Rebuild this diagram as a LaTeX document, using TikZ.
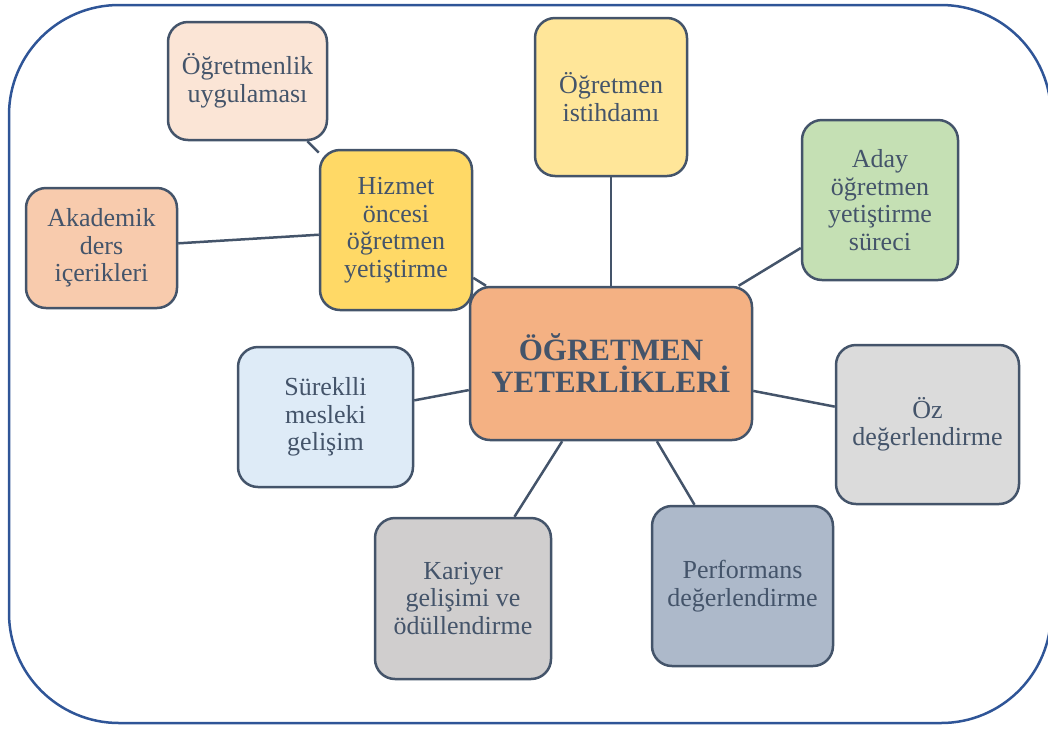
\documentclass[tikz,border=0pt]{standalone}
\usepackage{fontspec}
\setmainfont{Liberation Serif}
\definecolor{framec}{HTML}{2F5597}
\definecolor{edgec}{HTML}{44546A}
\definecolor{txtc}{HTML}{44546A}
\definecolor{uygc}{HTML}{FBE5D6}
\definecolor{istc}{HTML}{FFE699}
\definecolor{adayc}{HTML}{C5E0B4}
\definecolor{hizc}{HTML}{FFD966}
\definecolor{akac}{HTML}{F8CBAD}
\definecolor{merkc}{HTML}{F4B183}
\definecolor{surc}{HTML}{DEEBF7}
\definecolor{ozc}{HTML}{DBDBDB}
\definecolor{karc}{HTML}{D0CECE}
\definecolor{perfc}{HTML}{ADB9CA}
\tikzset{
  box/.style={draw=edgec, line width=2.5pt, rounded corners=20pt, align=center,
    text=txtc, inner sep=0pt, font=\fontsize{26}{27.5}\selectfont},
  link/.style={draw=edgec, line width=2.5pt},
}
\begin{document}
\begin{tikzpicture}[x=1pt,y=-1pt]
      \useasboundingbox (0,0) rectangle (1048,729);
      \draw[framec, line width=2.5pt, rounded corners=110pt] (9,5) rectangle (1051,723);
      \node[box, fill=uygc, minimum width=159pt, minimum height=118pt] (uyg) at (247.5,81) {Öğretmenlik\\uygulaması};
      \node[box, fill=istc, minimum width=152pt, minimum height=158pt] (ist) at (611,97) {Öğretmen\\istihdamı};
      \node[box, fill=adayc, minimum width=156pt, minimum height=160pt] (aday) at (880,200) {Aday\\öğretmen\\yetiştirme\\süreci};
      \node[box, fill=hizc, minimum width=152pt, minimum height=160pt] (hiz) at (396,230) {Hizmet\\öncesi\\öğretmen\\yetiştirme};
      \node[box, fill=akac, minimum width=151pt, minimum height=120pt] (aka) at (101.5,248) {Akademik\\ders\\içerikleri};
      \node[box, fill=merkc, minimum width=282pt, minimum height=153pt,
        font=\bfseries\fontsize{31}{32}\selectfont] (merk) at (611,363.5) {ÖĞRETMEN\\YETERLİKLERİ};
      \node[box, fill=surc, minimum width=175pt, minimum height=140pt] (sur) at (325.5,417) {Süreklli\\mesleki\\gelişim};
      \node[box, fill=ozc, minimum width=183pt, minimum height=159pt] (oz) at (927.5,424.5) {Öz\\değerlendirme};
      \node[box, fill=karc, minimum width=176pt, minimum height=161pt] (kar) at (463,598.5) {Kariyer\\gelişimi ve\\ödüllendirme};
      \node[box, fill=perfc, minimum width=181pt, minimum height=160pt] (perf) at (742.5,586) {Performans\\değerlendirme};
      \begin{scope}[link]
        \draw (uyg) to (hiz);
        \draw (aka) to (hiz);
        \draw (hiz) to (merk);
        \draw (ist) to (merk);
        \draw (aday) to (merk);
        \draw (sur) to (merk);
        \draw (oz) to (merk);
        \draw (kar) to (merk);
        \draw (perf) to (merk);
      \end{scope}
    \end{tikzpicture}
\end{document}
